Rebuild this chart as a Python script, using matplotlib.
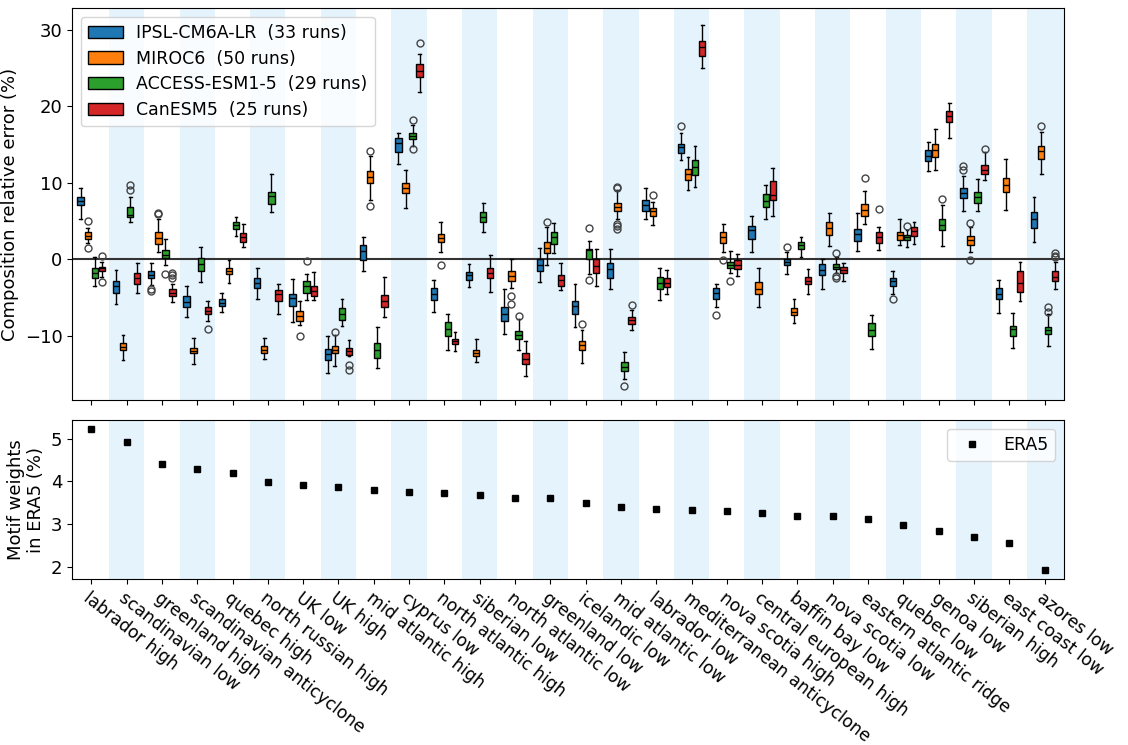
import numpy as np
import matplotlib
matplotlib.use('Agg')
import matplotlib.pyplot as plt
from matplotlib.patches import Patch

motifs = [
    "labrador high", "scandinavian low", "greenland high", "scandinavian anticyclone",
    "quebec high", "north russian high", "UK low", "UK high", "mid atlantic high",
    "cyprus low", "north atlantic high", "siberian low", "north atlantic low",
    "greenland low", "icelandic low", "mid atlantic low", "labrador low",
    "mediterranean anticyclone", "nova scotia high", "central european high",
    "baffin bay low", "nova scotia low", "eastern atlantic ridge", "quebec low",
    "genoa low", "siberian high", "east coast low", "azores low",
]

era5_weights = [5.22, 4.91, 4.40, 4.28, 4.20, 3.98, 3.92, 3.86, 3.80, 3.75, 3.73, 3.69,
                3.62, 3.60, 3.50, 3.41, 3.35, 3.33, 3.30, 3.27, 3.19, 3.18, 3.12, 2.99,
                2.85, 2.69, 2.55, 1.93]

model_names = ["IPSL-CM6A-LR", "MIROC6", "ACCESS-ESM1-5", "CanESM5"]
model_runs = [33, 50, 29, 25]
model_colors = ["tab:blue", "tab:orange", "tab:green", "tab:red"]

# per motif: whisker low, q1, median, q3, whisker high
ipsl_stats = [
    [5.3, 7.1, 7.6, 8.1, 9.3], [-5.9, -4.4, -3.5, -2.8, -1.35], [-3.4, -2.5, -2.05, -1.6, -0.5],
    [-7.5, -6.3, -5.6, -4.85, -3.5], [-6.9, -6.1, -5.67, -5.2, -4.35], [-5.2, -3.8, -3.1, -2.5, -1.1],
    [-8.2, -6.1, -5.05, -4.6, -2.55], [-14.8, -13.1, -12.4, -11.7, -10.0], [-1.6, -0.1, 1.1, 1.8, 2.9],
    [12.4, 13.95, 15.2, 15.8, 16.55], [-6.9, -5.35, -4.5, -3.8, -2.65], [-3.6, -2.65, -2.1, -1.65, -0.6],
    [-9.8, -8.05, -7.1, -6.3, -3.85], [-2.95, -1.55, -0.8, 0.0, 1.5], [-8.85, -7.1, -6.15, -5.45, -3.2],
    [-3.9, -2.5, -1.25, -0.5, 1.3], [5.2, 6.25, 7.15, 7.8, 9.3], [13.0, 13.9, 14.65, 15.1, 16.5],
    [-6.3, -5.15, -4.4, -3.75, -3.2], [0.9, 2.7, 3.8, 4.35, 5.65], [-1.95, -0.8, -0.35, 0.05, 0.9],
    [-3.9, -2.1, -1.45, -0.65, 0.05], [1.1, 2.4, 3.35, 4.0, 6.05], [-4.5, -3.5, -2.9, -2.45, -1.5],
    [11.5, 12.8, 13.45, 14.25, 15.35], [6.3, 7.95, 8.6, 9.35, 10.9], [-7.0, -5.2, -4.5, -3.8, -2.65],
    [2.3, 4.05, 5.2, 6.15, 8.15],
]
ipsl_fliers = {2: [-3.9, -4.15], 17: [17.4], 18: [-7.3], 20: [1.55], 23: [-5.15], 25: [11.7, 12.15]}

miroc_stats = [
    [2.1, 2.65, 3.1, 3.6, 4.1], [-13.1, -11.9, -11.45, -10.9, -9.85], [0.95, 1.95, 2.75, 3.5, 5.2],
    [-13.7, -12.3, -11.95, -11.55, -10.3], [-3.1, -1.96, -1.5, -1.1, -0.1], [-13.0, -12.3, -11.8, -11.3, -10.3],
    [-8.6, -8.05, -7.4, -6.8, -5.5], [-13.9, -12.3, -11.8, -11.4, -9.9], [7.7, 9.9, 10.7, 11.55, 13.5],
    [6.75, 8.6, 9.3, 10.0, 11.7], [1.0, 2.2, 2.8, 3.35, 4.85], [-13.45, -12.7, -12.2, -11.8, -10.45],
    [-3.7, -2.9, -2.2, -1.6, 0.0], [-0.7, 0.75, 1.5, 2.2, 4.15], [-13.5, -11.8, -11.25, -10.7, -9.3],
    [5.2, 6.25, 6.85, 7.3, 9.0], [4.5, 5.65, 6.3, 6.7, 7.5], [9.1, 10.4, 11.2, 11.8, 13.3],
    [1.0, 2.1, 2.9, 3.5, 4.6], [-6.2, -4.6, -3.9, -2.95, -1.1], [-8.3, -7.35, -6.85, -6.4, -5.2],
    [1.7, 3.2, 4.1, 4.9, 6.05], [4.6, 5.7, 6.4, 7.2, 8.9], [1.8, 2.45, 3.15, 3.55, 5.2],
    [11.6, 13.4, 14.25, 15.0, 17.05], [0.9, 1.9, 2.5, 3.05, 4.2], [6.4, 8.75, 9.65, 10.6, 13.15],
    [11.2, 13.15, 14.1, 14.85, 16.6],
]
miroc_fliers = {0: [5.0, 1.5], 2: [5.85, 6.05], 6: [-10.05], 7: [-9.45], 8: [14.1, 7.0], 10: [-0.8],
                12: [-4.8, -5.9], 13: [4.9], 14: [-8.5], 15: [9.3, 9.5, 4.6, 4.3, 4.0], 16: [8.35],
                18: [-0.1], 22: [10.6], 25: [4.75, -0.1], 27: [17.4]}

access_stats = [
    [-3.5, -2.4, -1.75, -1.1, 0.3], [4.8, 5.5, 5.8, 6.85, 8.1], [-0.8, 0.1, 0.6, 1.2, 2.6],
    [-2.95, -1.5, -0.57, 0.2, 1.65], [3.0, 4.0, 4.45, 4.85, 5.5], [6.2, 7.2, 8.2, 8.8, 11.1],
    [-5.35, -4.35, -3.5, -2.8, -1.96], [-8.7, -7.95, -7.1, -6.35, -5.15], [-14.15, -12.85, -11.9, -11.0, -8.9],
    [14.8, 15.7, 16.1, 16.55, 17.5], [-11.9, -10.0, -9.05, -8.2, -7.2], [3.5, 4.85, 5.5, 6.2, 7.3],
    [-11.8, -10.4, -9.85, -9.35, -7.8], [0.75, 1.95, 2.9, 3.6, 4.75], [-1.95, 0.0, 1.2, 1.35, 2.4],
    [-15.6, -14.6, -14.1, -13.45, -12.1], [-5.35, -3.95, -3.1, -2.3, -1.2], [9.45, 10.95, 12.05, 12.95, 14.75],
    [-1.85, -1.2, -0.7, -0.3, 1.1], [5.25, 6.85, 7.6, 8.55, 9.65], [0.3, 1.3, 1.85, 2.25, 2.9],
    [-1.85, -1.3, -0.95, -0.6, 0.3], [-11.7, -10.0, -9.3, -8.3, -7.35], [1.6, 2.45, 2.9, 3.2, 3.8],
    [1.7, 3.8, 4.5, 5.25, 7.05], [6.3, 7.4, 8.15, 8.75, 10.45], [-11.55, -10.05, -9.05, -8.75, -7.0],
    [-11.3, -9.8, -9.2, -8.8, -7.1],
]
access_fliers = {1: [9.1, 9.75], 2: [-1.9], 6: [-0.2], 9: [18.2, 14.35], 12: [-7.45], 14: [4.05, -2.65],
                 15: [-16.5], 18: [-2.8], 21: [0.75, -2.2, -2.45], 23: [4.3], 24: [7.9], 27: [-6.25, -6.9]}

canesm_stats = [
    [-2.3, -1.6, -1.2, -0.95, -0.3], [-4.35, -3.3, -2.45, -1.75, -0.5], [-5.65, -4.8, -4.4, -3.95, -3.3],
    [-8.05, -7.2, -6.75, -6.2, -5.45], [1.55, 2.2, 2.9, 3.45, 4.6], [-7.15, -5.45, -4.6, -3.96, -3.3],
    [-5.3, -4.75, -4.1, -3.5, -1.65], [-12.7, -12.45, -12.0, -11.6, -10.6], [-7.5, -6.3, -5.4, -4.65, -2.3],
    [21.8, 23.75, 24.6, 25.45, 26.75], [-12.0, -11.1, -10.7, -10.4, -9.55], [-4.25, -2.5, -1.85, -1.2, 0.6],
    [-15.3, -13.7, -13.0, -12.3, -10.7], [-4.05, -3.5, -2.65, -2.1, -0.45], [-3.5, -1.75, -0.87, 0.05, 1.4],
    [-9.2, -8.4, -7.95, -7.6, -6.6], [-4.5, -3.6, -3.05, -2.5, -1.35], [25.05, 26.55, 27.75, 28.45, 30.6],
    [-2.2, -1.27, -0.7, -0.13, 0.65], [5.7, 7.75, 8.35, 10.25, 11.95], [-4.6, -3.3, -2.8, -2.35, -1.3],
    [-2.9, -1.8, -1.35, -0.95, -0.5], [1.2, 2.15, 2.9, 3.5, 4.2], [1.95, 3.1, 3.7, 4.2, 4.9],
    [15.8, 17.95, 18.7, 19.4, 20.4], [10.35, 11.15, 11.7, 12.25, 14.0], [-5.45, -4.3, -3.1, -1.6, -0.4],
    [-3.85, -2.9, -2.3, -1.6, -0.35],
]
canesm_fliers = {0: [0.4, -3.0], 2: [-1.8, -2.1, -2.4], 3: [-9.15], 7: [-13.8, -14.5], 9: [28.2],
                 15: [-6.0], 22: [6.5], 25: [14.4], 27: [0.3, 0.45, 0.75]}

all_stats = [ipsl_stats, miroc_stats, access_stats, canesm_stats]
all_fliers = [ipsl_fliers, miroc_fliers, access_fliers, canesm_fliers]
offsets = [-0.3, -0.1, 0.1, 0.3]

n = len(motifs)
x = np.arange(n)
band_color = '#e5f3fd'

fig = plt.figure(figsize=(11.28, 7.45), dpi=100)
ax1 = fig.add_axes([0.064, 0.463, 0.879, 0.526])
ax2 = fig.add_axes([0.064, 0.223, 0.879, 0.213])

for ax in (ax1, ax2):
    for i in range(1, n, 2):
        right = i + 0.5 if i < n - 1 else i + 1.0
        ax.axvspan(i - 0.5, right, color=band_color, lw=0, zorder=0)
    ax.set_xlim(-0.54, n - 0.46)
    ax.set_xticks(x)
    ax.tick_params(labelsize=13)

# composition errors
ax1.axhline(0, color='#333333', lw=1.5, zorder=1)
for stats, fliers, col, off in zip(all_stats, all_fliers, model_colors, offsets):
    bxp_stats = []
    for i, (lo, q1, med, q3, hi) in enumerate(stats):
        bxp_stats.append(dict(whislo=lo, q1=q1, med=med, q3=q3, whishi=hi,
                              fliers=fliers.get(i, [])))
    ax1.bxp(bxp_stats, positions=x + off, widths=0.18, capwidths=0.08,
            patch_artist=True, manage_ticks=False,
            boxprops=dict(facecolor=col, edgecolor='black', lw=1),
            medianprops=dict(color='black', lw=1),
            whiskerprops=dict(color='black', lw=1),
            capprops=dict(color='black', lw=1),
            flierprops=dict(marker='o', markerfacecolor='none',
                            markeredgecolor='#444444', markersize=5, lw=0))

ax1.set_ylim(-18.4, 32.8)
ax1.set_yticks([-10, 0, 10, 20, 30])
ax1.set_xticklabels([])
ax1.set_ylabel('Composition relative error (%)', fontsize=13)
handles = [Patch(facecolor=c, edgecolor='black', label=f'{m}  ({r} runs)')
           for m, r, c in zip(model_names, model_runs, model_colors)]
ax1.legend(handles=handles, loc='upper left', fontsize=12.5, labelspacing=0.45)

# ERA5 motif weights
ax2.plot(x, era5_weights, 's', color='black', markersize=5, label='ERA5')
ax2.set_ylim(1.72, 5.43)
ax2.set_yticks([2, 3, 4, 5])
ax2.set_ylabel('Motif weights\nin ERA5 (%)', fontsize=13)
ax2.set_xticklabels(motifs, rotation=-38, ha='left', rotation_mode='anchor', fontsize=12.3)
ax2.legend(loc='upper right', fontsize=12.5)

fig.savefig('out.png', dpi=100)
